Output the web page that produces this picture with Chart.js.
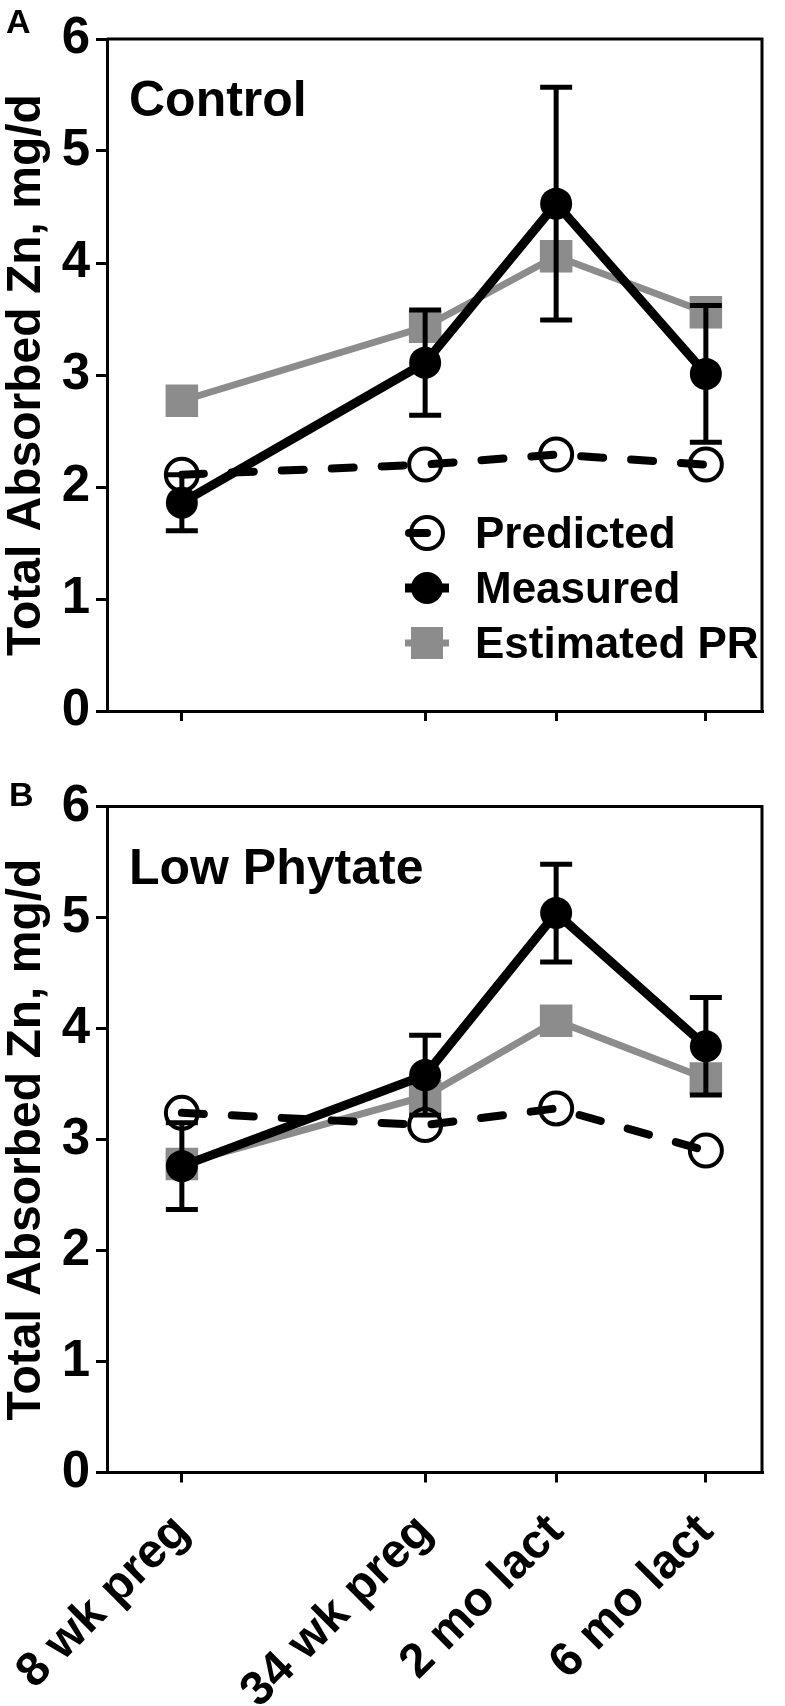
<!DOCTYPE html>
<html>
<head>
<meta charset="utf-8">
<script src="https://cdn.jsdelivr.net/npm/chart.js@4.4.1/dist/chart.umd.min.js"></script>
<style>
   html, body { margin: 0; padding: 0; background: #fff; }
   .panel { position: absolute; left: 0; width: 785px; }
   #wrapA { top: 0; height: 780px; }
   #wrapB { top: 780px; height: 926px; }
</style>
</head>
<body>
<div class="panel" id="wrapA"><canvas id="chartA" width="785" height="780"></canvas></div>
<div class="panel" id="wrapB"><canvas id="chartB" width="785" height="926"></canvas></div>
<script>
// time points (weeks from conception) and their labels
const xWeeks = [8, 34, 48, 64];
const xLabels = ['8 wk preg', '34 wk preg', '2 mo lact', '6 mo lact'];
const yTicks = [0, 1, 2, 3, 4, 5, 6];

// panel A - Control
const controlPredicted = [2.11, 2.20, 2.29, 2.20];
const controlMeasured = [1.86, 3.11, 4.53, 3.01];
const controlMeasuredErr = [0.25, 0.47, 1.04, 0.61];
const controlEstimated = [2.77, 3.43, 4.06, 3.56];

// panel B - Low Phytate
const lowPredicted = [3.24, 3.13, 3.28, 2.90];
const lowMeasured = [2.76, 3.58, 5.04, 3.84];
const lowMeasuredErr = [0.39, 0.36, 0.44, 0.44];
const lowEstimated = [2.78, 3.39, 4.07, 3.55];

const FONT = "'Liberation Sans', Arial, Helvetica, sans-serif";
const GREY = '#8c8c8c';

Chart.defaults.font.family = FONT;
Chart.defaults.color = '#000000';

function pts(values) {
   return xWeeks.map((x, i) => ({ x: x, y: values[i] }));
}

function drawSymbol(ctx, kind, x, y) {
   if (kind === 'square') {
      ctx.fillStyle = GREY;
      ctx.fillRect(x - 16, y - 16, 32, 32);
   } else {
      ctx.beginPath();
      ctx.arc(x, y, 16, 0, Math.PI * 2);
      ctx.fillStyle = kind === 'open' ? '#ffffff' : '#000000';
      ctx.fill();
      if (kind === 'open') {
         ctx.lineWidth = 4;
         ctx.strokeStyle = '#000000';
         ctx.stroke();
      }
   }
}

// error bars for the measured series, drawn just under its line/points
const errorBarPlugin = {
   id: 'errorBars',
   beforeDatasetDraw(chart, args, opts) {
      if (args.index !== 0 || !opts.err) return;
      const ctx = chart.ctx;
      const xs = chart.scales.x, ys = chart.scales.y;
      const ds = chart.data.datasets[0].data;
      ctx.save();
      ctx.strokeStyle = '#000000';
      ctx.lineWidth = 5;
      opts.err.forEach((e, i) => {
         const px = xs.getPixelForValue(ds[i].x);
         const top = ys.getPixelForValue(ds[i].y + e);
         const bot = ys.getPixelForValue(ds[i].y - e);
         ctx.beginPath();
         ctx.moveTo(px, top); ctx.lineTo(px, bot);
         ctx.moveTo(px - 16, top); ctx.lineTo(px + 16, top);
         ctx.moveTo(px - 16, bot); ctx.lineTo(px + 16, bot);
         ctx.stroke();
      });
      ctx.restore();
   }
};

// box top/right edges, panel letter, panel title and the inside legend
const panelDecor = {
   id: 'panelDecor',
   afterDraw(chart, args, o) {
      const ctx = chart.ctx;
      const a = chart.chartArea;
      ctx.save();
      ctx.strokeStyle = '#000000';
      ctx.lineWidth = 3;
      ctx.beginPath();
      ctx.moveTo(a.left, a.top);
      ctx.lineTo(a.right, a.top);
      ctx.lineTo(a.right, a.bottom);
      ctx.stroke();

      ctx.fillStyle = '#000000';
      ctx.textAlign = 'left';
      ctx.textBaseline = 'alphabetic';
      ctx.font = 'bold 34px ' + FONT;
      ctx.fillText(o.letter, o.letterX, o.letterY);
      ctx.font = 'bold 50px ' + FONT;
      ctx.fillText(o.title, a.left + 22, a.top + 77);

      if (o.legend) {
         const sx = a.left + 320;
         o.legend.forEach((item, k) => {
            const y = a.top + 494 + k * 55;
            ctx.save();
            if (item.kind === 'open') {
               drawSymbol(ctx, 'open', sx, y);
               ctx.strokeStyle = '#000000';
               ctx.lineWidth = 8;
               ctx.lineCap = 'round';
               ctx.beginPath();
               ctx.moveTo(sx - 18, y); ctx.lineTo(sx, y);
               ctx.stroke();
            } else {
               ctx.strokeStyle = item.kind === 'square' ? GREY : '#000000';
               ctx.lineWidth = item.kind === 'square' ? 7 : 9;
               ctx.beginPath();
               ctx.moveTo(sx - 22, y); ctx.lineTo(sx + 22, y);
               ctx.stroke();
               drawSymbol(ctx, item.kind, sx, y);
            }
            ctx.restore();
            ctx.fillStyle = '#000000';
            ctx.font = 'bold 44px ' + FONT;
            ctx.fillText(item.label, sx + 48, y + 15);
         });
      }
      ctx.restore();
   }
};

function makePanel(canvasId, cfg) {
   const axisGrid = (len) => ({
      drawOnChartArea: false,
      drawTicks: true,
      tickLength: len,
      color: '#000000',
      lineWidth: 3
   });

   return new Chart(document.getElementById(canvasId), {
      type: 'line',
      data: {
         datasets: [{
            label: 'Measured',
            data: pts(cfg.measured),
            borderColor: '#000000',
            borderWidth: 9,
            pointRadius: 16,
            pointBackgroundColor: '#000000',
            pointBorderWidth: 0,
            order: 0
         }, {
            label: 'Predicted line',
            data: pts(cfg.predicted),
            borderColor: '#000000',
            borderWidth: 8,
            borderDash: [22, 28],
            borderCapStyle: 'round',
            pointRadius: 0,
            order: 1
         }, {
            label: 'Predicted',
            data: pts(cfg.predicted),
            showLine: false,
            pointRadius: 16,
            pointBackgroundColor: '#ffffff',
            pointBorderColor: '#000000',
            pointBorderWidth: 4,
            order: 2
         }, {
            label: 'Estimated PR',
            data: pts(cfg.estimated),
            borderColor: GREY,
            borderWidth: 7,
            pointStyle: 'rect',
            pointRadius: 23,
            pointBackgroundColor: GREY,
            pointBorderWidth: 0,
            order: 3
         }]
      },
      options: {
         responsive: false,
         animation: false,
         events: [],
         layout: { padding: { top: cfg.padTop, right: cfg.padRight, left: 0, bottom: 0 } },
         plugins: {
            legend: { display: false },
            tooltip: { enabled: false },
            errorBars: { err: cfg.err },
            panelDecor: {
               letter: cfg.letter, letterX: cfg.letterX, letterY: cfg.letterY,
               title: cfg.title, legend: cfg.legend
            }
         },
         scales: {
            x: {
               type: 'linear',
               min: 0,
               max: 70,
               afterBuildTicks: (s) => { s.ticks = xWeeks.map(v => ({ value: v })); },
               afterFit: (s) => { s.height = cfg.xHeight; s.paddingLeft = 0; s.paddingRight = 0; },
               grid: axisGrid(10),
               border: { display: true, color: '#000000', width: 3 },
               ticks: {
                  display: cfg.showX,
                  autoSkip: false,
                  minRotation: 45,
                  maxRotation: 45,
                  padding: 21,
                  font: { size: 48, weight: 'bold' },
                  callback: (v) => xLabels[xWeeks.indexOf(v)]
               }
            },
            y: {
               min: 0,
               max: 6,
               afterBuildTicks: (s) => { s.ticks = yTicks.map(v => ({ value: v })); },
               afterFit: (s) => { s.width = 107; s.paddingTop = 0; s.paddingBottom = 0; },
               grid: axisGrid(11),
               border: { display: true, color: '#000000', width: 3 },
               ticks: { padding: 6, font: { size: 51, weight: 'bold' } },
               title: {
                  display: true,
                  text: 'Total Absorbed Zn, mg/d',
                  font: { size: 48, weight: 'bold', lineHeight: 1.1 },
                  padding: 0
               }
            }
         }
      },
      plugins: [errorBarPlugin, panelDecor]
   });
}

makePanel('chartA', {
   measured: controlMeasured, predicted: controlPredicted, estimated: controlEstimated,
   err: controlMeasuredErr,
   padTop: 39, padRight: 5, xHeight: 69, showX: false,
   letter: 'A', letterX: 6, letterY: 33, title: 'Control',
   legend: [
      { label: 'Predicted', kind: 'open' },
      { label: 'Measured', kind: 'filled' },
      { label: 'Estimated PR', kind: 'square' }
   ]
});

makePanel('chartB', {
   measured: lowMeasured, predicted: lowPredicted, estimated: lowEstimated,
   err: lowMeasuredErr,
   padTop: 26.5, padRight: 11, xHeight: 233.5, showX: true,
   letter: 'B', letterX: 9, letterY: 26, title: 'Low Phytate',
   legend: null
});
</script>
</body>
</html>
